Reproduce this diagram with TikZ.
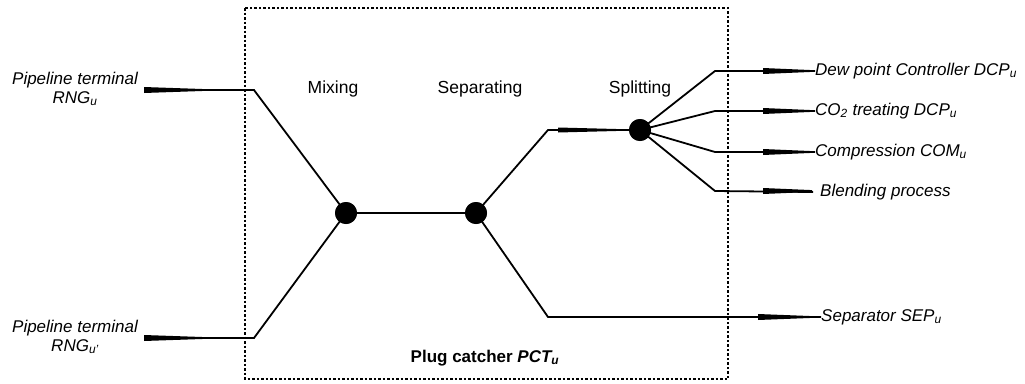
\documentclass[tikz,border=0pt]{standalone}
\usepackage{fontspec}
\setmainfont{Liberation Sans}
\begin{document}
\begin{tikzpicture}[x=1pt,y=-1pt,
  lbl/.style={font=\fontsize{17}{19}\selectfont\itshape, inner sep=0pt},
  stage/.style={font=\fontsize{17.5}{18}\selectfont, inner sep=0pt},
  junction/.style={circle, fill=black, minimum size=22pt, inner sep=0pt},
  pipe/.style={line width=1.8pt},
  boxline/.style={line width=1.4pt, dash pattern=on 2.5pt off 2pt}]
\useasboundingbox (0,0) rectangle (1025,383);
% plug catcher box
\draw[boxline] (245,8) rectangle (728,379);
\node[font=\fontsize{17}{18}\selectfont\bfseries, inner sep=0pt] (pct) at (485,358) {Plug catcher \textit{PCT\textsubscript{u}}};
% stage labels
\node[stage] (lmix) at (333,89) {Mixing};
\node[stage] (lsep) at (480,89) {Separating};
\node[stage] (lspl) at (640,89) {Splitting};
% junctions
\node[junction] (mix) at (346,213) {};
\node[junction] (sep) at (476,213) {};
\node[junction] (spl) at (640,130) {};
% input labels
\node[lbl, align=center] (in1) at (75,89) {Pipeline terminal\\RNG\textsubscript{u}};
\node[lbl, align=center] (in2) at (75,337) {Pipeline terminal\\RNG\textsubscript{u'}};
\coordinate (s1) at (144,90);
\coordinate (s2) at (144,338);
\coordinate (c1) at (254,90);
\coordinate (c2) at (254,338);
% output labels
\node[lbl, anchor=west] (o1) at (815,71) {Dew point Controller DCP\textsubscript{u}};
\node[lbl, anchor=west] (o2) at (815,111) {CO\textsubscript{2} treating DCP\textsubscript{u}};
\node[lbl, anchor=west] (o3) at (815,152) {Compression COM\textsubscript{u}};
\node[lbl, anchor=west] (o4) at (820,192) {Blending process};
\node[lbl, anchor=west] (o5) at (821,317) {Separator SEP\textsubscript{u}};
\coordinate (b1) at (715,71);
\coordinate (b2) at (715,111);
\coordinate (b3) at (715,152);
\coordinate (b4) at (715,191);
\coordinate (up) at (548,130);
\coordinate (dn) at (548,317);
% connectors
\draw[pipe] (s1) -- (c1) -- (mix.center);
\draw[pipe] (s2) -- (c2) -- (mix.center);
\draw[pipe] (mix) -- (sep);
\draw[pipe] (sep.center) -- (up) -- (spl.center);
\draw[pipe] (sep.center) -- (dn) -- (o5.west);
\draw[pipe] (spl.center) -- (b1) -- (o1.west);
\draw[pipe] (spl.center) -- (b2) -- (o2.west);
\draw[pipe] (spl.center) -- (b3) -- (o3.west);
\draw[pipe] (spl.center) -- (b4) -- ([xshift=-7pt]o4.west);
% redraw junctions on top
\node[junction] at (mix) {};
\node[junction] at (sep) {};
\node[junction] at (spl) {};
% tapered flow markers
\fill (144,87) -- (144,93) -- (205,90.9) -- (205,89.1) -- cycle;
\fill (144,335) -- (144,341) -- (205,338.9) -- (205,337.1) -- cycle;
\fill (558,127.5) -- (558,132.5) -- (620,130.9) -- (620,129.1) -- cycle;
\fill (763,68) -- (763,74) -- (812,71.9) -- (812,70.1) -- cycle;
\fill (763,108) -- (763,114) -- (812,111.9) -- (812,110.1) -- cycle;
\fill (763,149) -- (763,155) -- (812,152.9) -- (812,151.1) -- cycle;
\fill (763,188) -- (763,194) -- (812,191.9) -- (812,190.1) -- cycle;
\fill (758,314) -- (758,320) -- (812,317.9) -- (812,316.1) -- cycle;
\end{tikzpicture}
\end{document}
